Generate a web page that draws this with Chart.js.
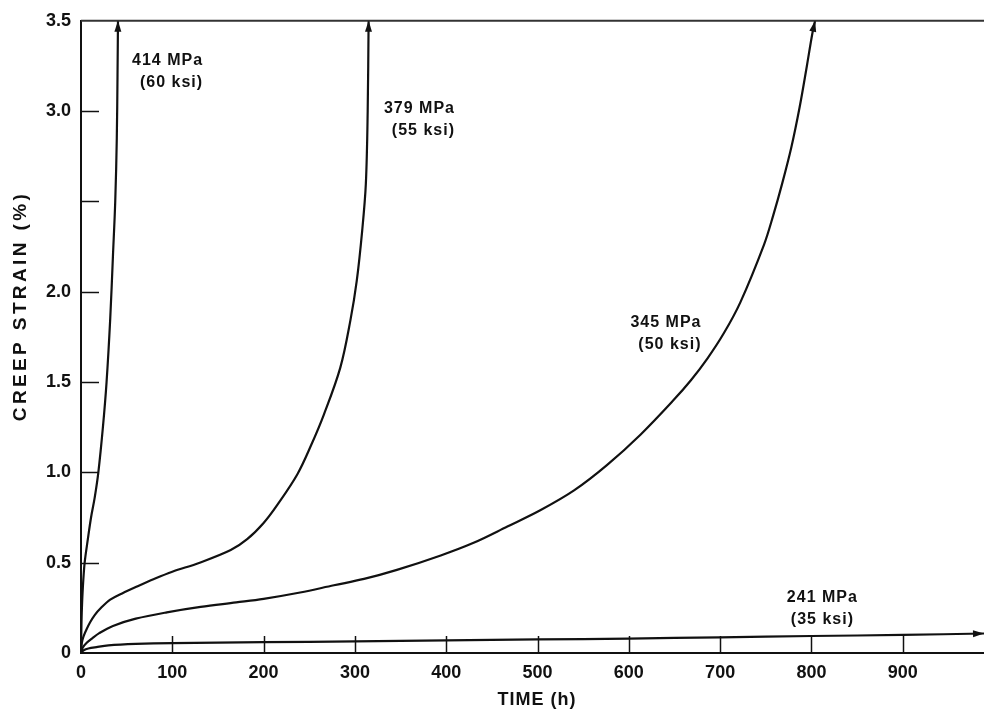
<!DOCTYPE html>
<html>
<head>
<meta charset="utf-8">
<script src="https://cdn.jsdelivr.net/npm/chart.js@4.4.1/dist/chart.umd.min.js"></script>
<style>
  html, body { margin: 0; padding: 0; background: #ffffff; }
  #wrap { width: 984px; height: 709px; position: relative; }
</style>
</head>
<body>
<div id="wrap"><canvas id="c" width="984" height="709"></canvas></div>
<script>
// ---- data (time in h, creep strain in %) ----
const t414 = [0, 0.3, 0.8, 2, 4, 7.5, 11, 15, 19, 24, 28, 32, 35, 37.5, 39.2, 40, 40.5];
const s414 = [0, 0.10, 0.22, 0.36, 0.50, 0.63, 0.75, 0.86, 1.00, 1.25, 1.50, 1.85, 2.20, 2.50, 2.85, 3.20, 3.50];

const t379 = [0, 0.5, 1.5, 3, 6, 10, 15, 22, 32, 45, 62, 80, 100, 130, 164, 182, 200, 215, 237, 252, 266, 284, 295, 302, 308, 312, 314, 315];
const s379 = [0, 0.04, 0.07, 0.095, 0.13, 0.17, 0.21, 0.25, 0.295, 0.33, 0.37, 0.41, 0.45, 0.50, 0.57, 0.63, 0.72, 0.82, 0.99, 1.15, 1.32, 1.58, 1.84, 2.06, 2.34, 2.60, 3.00, 3.50];

const t345 = [0, 2, 6, 12, 20, 35, 60, 94, 131, 170, 200, 240, 277, 310, 346, 394, 430, 467, 503, 540, 576, 613, 649, 668, 686, 704, 722, 748, 758, 768, 778, 787, 795, 801, 804];
const s345 = [0, 0.03, 0.055, 0.08, 0.11, 0.15, 0.19, 0.225, 0.255, 0.28, 0.30, 0.335, 0.375, 0.41, 0.46, 0.54, 0.61, 0.70, 0.79, 0.90, 1.04, 1.21, 1.40, 1.51, 1.63, 1.77, 1.94, 2.26, 2.42, 2.60, 2.80, 3.02, 3.25, 3.43, 3.50];

const t241 = [0, 3, 8, 17, 30, 60, 100, 200, 300, 400, 500, 600, 700, 800, 900, 989];
const s241 = [0, 0.015, 0.025, 0.033, 0.042, 0.050, 0.055, 0.060, 0.064, 0.070, 0.075, 0.080, 0.087, 0.094, 0.100, 0.108];

const xTickValues = [0, 100, 200, 300, 400, 500, 600, 700, 800, 900];
const xTickLabels = ['0', '100', '200', '300', '400', '500', '600', '700', '800', '900'];
const yTickValues = [0, 0.5, 1.0, 1.5, 2.0, 2.5, 3.0, 3.5];
const yTickLabels = ['0', '0.5', '1.0', '1.5', '2.0', '', '3.0', '3.5'];

const curveLabels = [
  { x: 133.7, y: 3.279, lines: ['414 MPa', '(60 ksi)'], align: 'right' },
  { x: 409.6, y: 3.013, lines: ['379 MPa', '(55 ksi)'], align: 'right' },
  { x: 679.6, y: 1.827, lines: ['345 MPa', '(50 ksi)'], align: 'right' },
  { x: 812.0, y: 0.307, lines: ['241 MPa', '(35 ksi)'], align: 'center' }
];

const xTitle = 'TIME (h)';
const yTitle = 'CREEP STRAIN (%)';

function pts(t, s) { return t.map((v, i) => ({ x: v, y: s[i] })); }

const INK = '#111111';
const FONT = '"Liberation Sans", Arial, sans-serif';

const ds = (t, s) => ({
  data: pts(t, s),
  borderColor: INK,
  borderWidth: 2.2,
  pointRadius: 0,
  fill: false,
  tension: 0.35
});

const decorPlugin = {
  id: 'decor',
  afterDatasetsDraw(chart) {
    const ctx = chart.ctx;
    const xs = chart.scales.x, ys = chart.scales.y;
    const area = chart.chartArea;
    ctx.save();
    // top border line
    ctx.strokeStyle = '#333';
    ctx.lineWidth = 2;
    ctx.beginPath();
    ctx.moveTo(area.left, area.top);
    ctx.lineTo(area.right, area.top);
    ctx.stroke();

    // inward tick marks
    ctx.strokeStyle = INK;
    ctx.lineWidth = 1.5;
    yTickValues.forEach(v => {
      if (v <= 0 || v >= ys.max) return;
      const py = Math.round(ys.getPixelForValue(v)) + 0.5;
      ctx.beginPath();
      ctx.moveTo(area.left, py);
      ctx.lineTo(area.left + 18, py);
      ctx.stroke();
    });
    xTickValues.forEach(v => {
      if (v <= 0) return;
      const px = Math.round(xs.getPixelForValue(v)) + 0.5;
      ctx.beginPath();
      ctx.moveTo(px, area.bottom);
      ctx.lineTo(px, area.bottom - 17);
      ctx.stroke();
    });

    // arrow heads at curve ends
    ctx.fillStyle = INK;
    chart.data.datasets.forEach(d => {
      const n = d.data.length;
      const a = d.data[n - 1], b = d.data[n - 2];
      const ax = xs.getPixelForValue(a.x), ay = ys.getPixelForValue(a.y);
      const bx = xs.getPixelForValue(b.x), by = ys.getPixelForValue(b.y);
      const ang = Math.atan2(ay - by, ax - bx);
      const L = 11, W = 3.5;
      ctx.beginPath();
      ctx.moveTo(ax, ay);
      ctx.lineTo(ax - L * Math.cos(ang) + W * Math.sin(ang), ay - L * Math.sin(ang) - W * Math.cos(ang));
      ctx.lineTo(ax - L * Math.cos(ang) - W * Math.sin(ang), ay - L * Math.sin(ang) + W * Math.cos(ang));
      ctx.closePath();
      ctx.fill();
    });

    // curve labels
    ctx.fillStyle = INK;
    ctx.font = 'bold 16px ' + FONT;
    ctx.textBaseline = 'middle';
    if ('letterSpacing' in ctx) ctx.letterSpacing = '1px';
    curveLabels.forEach(l => {
      const px = xs.getPixelForValue(l.x), py = ys.getPixelForValue(l.y);
      ctx.textAlign = l.align;
      l.lines.forEach((s, i) => ctx.fillText(s, px, py + i * 22));
    });

    // axis titles
    ctx.font = 'bold 18px ' + FONT;
    if ('letterSpacing' in ctx) ctx.letterSpacing = '1px';
    ctx.textAlign = 'center';
    ctx.fillText(xTitle, 537, 700);

    ctx.translate(21, 306);
    ctx.rotate(-Math.PI / 2);
    ctx.font = 'bold 19px ' + FONT;
    if ('letterSpacing' in ctx) {
      ctx.letterSpacing = '0px';
      const w0 = ctx.measureText(yTitle).width;
      const ls = Math.max(0, (227 - w0) / (yTitle.length - 1));
      ctx.letterSpacing = ls.toFixed(2) + 'px';
    }
    ctx.fillText(yTitle, 0, 0);
    ctx.restore();
  }
};

new Chart(document.getElementById('c'), {
  type: 'line',
  data: {
    datasets: [ds(t414, s414), ds(t379, s379), ds(t345, s345), ds(t241, s241)]
  },
  options: {
    responsive: false,
    animation: false,
    layout: { padding: { top: 20, right: 0, left: 0, bottom: 0 } },
    plugins: { legend: { display: false }, tooltip: { enabled: false } },
    scales: {
      x: {
        type: 'linear',
        min: 0,
        max: 989,
        afterBuildTicks: s => { s.ticks = xTickValues.map(v => ({ value: v })); },
        afterFit: s => { s.height = 56; },
        grid: { display: false, drawTicks: false },
        border: { display: true, color: INK, width: 2 },
        ticks: {
          padding: 9,
          maxRotation: 0,
          autoSkip: false,
          color: INK,
          font: { family: FONT, size: 18, weight: 'bold' },
          callback: (v) => { const i = xTickValues.indexOf(v); return i >= 0 ? xTickLabels[i] : ''; }
        }
      },
      y: {
        type: 'linear',
        min: 0,
        max: 3.5,
        afterBuildTicks: s => { s.ticks = yTickValues.map(v => ({ value: v })); },
        afterFit: s => { s.width = 81; },
        grid: { display: false, drawTicks: false },
        border: { display: true, color: INK, width: 2 },
        ticks: {
          padding: 10,
          autoSkip: false,
          color: INK,
          font: { family: FONT, size: 18, weight: 'bold' },
          callback: (v) => { const i = yTickValues.indexOf(v); return i >= 0 ? yTickLabels[i] : ''; }
        }
      }
    }
  },
  plugins: [decorPlugin]
});
</script>
</body>
</html>
